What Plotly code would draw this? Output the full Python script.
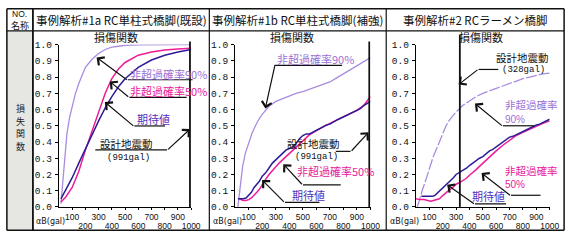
import plotly.graph_objects as go

W, H = 580, 243

# ---------------- data ----------------
x_range = [0, 1000]
odd_ticks = [100, 300, 500, 700, 900]
even_ticks = [200, 400, 600, 800, 1000]
y_ticks = [0.0, 0.1, 0.2, 0.3, 0.4, 0.5, 0.6, 0.7, 0.8, 0.9, 1.0]
y_ticktext = ["0.0", "0.1", "0.2", "0.3", "0.4", "0.5", "0.6", "0.7", "0.8", "0.9", "1.0"]

panel_titles = ["事例解析#1a RC単柱式橋脚(既設)", "事例解析#1b RC単柱式橋脚(補強)", "事例解析#2 RCラーメン橋脚"]
design_gal = [991, 991, 328]
design_text = ["(991gal)", "(991gal)", "(328gal)"]

# Panel 1 (#1a)
p1_x90 = [15, 30, 45, 60, 80, 100, 125, 150, 200, 250, 300, 350, 400, 450, 500, 600, 700, 800, 900, 1000]
p1_y90 = [0.02, 0.15, 0.32, 0.45, 0.55, 0.62, 0.70, 0.76, 0.86, 0.91, 0.945, 0.97, 0.985, 0.99, 0.995, 0.998, 1.0, 1.0, 1.0, 1.0]
p1_xe = [15, 50, 100, 150, 200, 250, 300, 350, 400, 450, 500, 600, 700, 800, 900, 1000]
p1_ye = [0.05, 0.10, 0.18, 0.27, 0.36, 0.45, 0.53, 0.61, 0.68, 0.74, 0.79, 0.86, 0.905, 0.935, 0.955, 0.97]
p1_x50 = [15, 50, 100, 150, 200, 250, 300, 350, 400, 450, 500, 600, 700, 800, 900, 1000]
p1_y50 = [0.03, 0.06, 0.12, 0.22, 0.35, 0.47, 0.59, 0.70, 0.79, 0.85, 0.89, 0.935, 0.955, 0.967, 0.973, 0.977]

# Panel 2 (#1b)
p2_x90 = [20, 40, 55, 75, 100, 125, 150, 175, 200, 250, 300, 350, 400, 450, 500, 550, 600, 650, 700, 750, 800, 850, 900, 950, 1000]
p2_y90 = [0.0, 0.15, 0.25, 0.33, 0.40, 0.455, 0.50, 0.54, 0.57, 0.62, 0.65, 0.668, 0.685, 0.70, 0.71, 0.725, 0.74, 0.755, 0.77, 0.795, 0.82, 0.845, 0.87, 0.895, 0.92]
p2_xe = [20, 40, 60, 80, 100, 120, 140, 160, 180, 200, 225, 250, 275, 300, 325, 350, 375, 400, 425, 450, 475, 500, 525, 550, 575, 600,
         625, 650, 675, 700, 725, 750, 775, 800, 825, 850, 875, 900, 925, 950, 975, 1000]
p2_ye = [0.05, 0.05, 0.05, 0.055, 0.07, 0.09, 0.12, 0.14, 0.16, 0.19, 0.21, 0.24, 0.27, 0.29, 0.31, 0.33, 0.35, 0.36, 0.37, 0.39, 0.42, 0.44, 0.45, 0.45, 0.46, 0.475,
         0.48, 0.495, 0.505, 0.51, 0.525, 0.535, 0.545, 0.555, 0.57, 0.575, 0.585, 0.60, 0.605, 0.625, 0.64, 0.65]
p2_x50 = [30, 60, 80, 100, 120, 140, 160, 180, 200, 225, 250, 275, 300, 325, 350, 375, 400, 450, 500, 550, 600, 650, 700, 750, 800, 850, 900, 950, 1000]
p2_y50 = [0.05, 0.04, 0.04, 0.045, 0.055, 0.07, 0.09, 0.11, 0.14, 0.17, 0.20, 0.225, 0.25, 0.27, 0.29, 0.31, 0.33, 0.37, 0.41, 0.445, 0.47, 0.495, 0.515, 0.535, 0.555, 0.575, 0.595, 0.625, 0.68]

# Panel 3 (#2)
p3_x90 = [10, 30, 50, 75, 100, 125, 150, 175, 200, 225, 250, 275, 300, 350, 400, 450, 500, 550, 600, 650, 700, 750, 800, 850, 900, 950, 1000]
p3_y90 = [0.0, 0.06, 0.11, 0.17, 0.24, 0.30, 0.35, 0.40, 0.45, 0.50, 0.535, 0.56, 0.585, 0.625, 0.655, 0.68, 0.70, 0.715, 0.73, 0.745, 0.76, 0.775, 0.79, 0.80, 0.81, 0.82, 0.825]
p3_xe = [40, 60, 80, 100, 120, 140, 160, 180, 200, 220, 240, 260, 280, 300, 320, 340, 360, 380, 400, 425, 450, 475, 500, 525, 550, 575,
         600, 625, 650, 675, 700, 725, 750, 775, 800, 825, 850, 875, 900, 925, 950, 975, 1000]
p3_ye = [0.065, 0.065, 0.065, 0.065, 0.065, 0.07, 0.085, 0.10, 0.12, 0.13, 0.15, 0.16, 0.18, 0.20, 0.21, 0.215, 0.23, 0.24, 0.255, 0.27, 0.29, 0.30, 0.31, 0.33, 0.345, 0.355,
         0.37, 0.38, 0.395, 0.41, 0.43, 0.435, 0.445, 0.455, 0.47, 0.48, 0.49, 0.50, 0.505, 0.51, 0.52, 0.53, 0.54]
p3_x50 = [0, 30, 60, 90, 110, 130, 150, 175, 200, 225, 250, 275, 300, 325, 350, 375, 400, 425, 450, 475, 500, 550, 600, 650, 700, 750, 800, 850, 900, 950, 1000]
p3_y50 = [0.05, 0.045, 0.045, 0.04, 0.035, 0.04, 0.045, 0.05, 0.07, 0.09, 0.105, 0.12, 0.14, 0.15, 0.16, 0.175, 0.195, 0.21, 0.23, 0.25, 0.27, 0.31, 0.345, 0.38, 0.41, 0.44, 0.46, 0.48, 0.50, 0.515, 0.53]

# ---------------- styles ----------------
C90 = "#a98ce0"
C50 = "#ee1c96"
CE = "#2c1c98"
T90 = "#9b72d4"
T50 = "#e8209a"
TE = "#5030c0"
CJK = "Noto Sans CJK JP"

# panel pixel geometry (x of gal=0 and gal=1000; y of value 0 and 1)
px_dom = [(60, 194.5), (239.3, 377), (423.3, 559.3)]
py0, py1 = 211.5, 41.5


def fx(px):
    return px / W


def fy(py):
    return 1 - py / H


fig = go.Figure()

panels = [
    (p1_x90, p1_y90, p1_xe, p1_ye, p1_x50, p1_y50, "solid"),
    (p2_x90, p2_y90, p2_xe, p2_ye, p2_x50, p2_y50, "solid"),
    (p3_x90, p3_y90, p3_xe, p3_ye, p3_x50, p3_y50, "11px,2px"),
]

for i, (x90, y90, xe, ye, x50, y50, dash90) in enumerate(panels):
    n = i + 1
    xa = "x" if n == 1 else f"x{n}"
    xo = f"x{n + 3}"
    ya = "y" if n == 1 else f"y{n}"
    fig.add_trace(go.Scatter(x=x90, y=y90, mode="lines", xaxis=xa, yaxis=ya,
                             line=dict(color=C90, width=1.3, dash=dash90), showlegend=False, hoverinfo="skip"))
    fig.add_trace(go.Scatter(x=x50, y=y50, mode="lines", xaxis=xa, yaxis=ya,
                             line=dict(color=C50, width=1.5), showlegend=False, hoverinfo="skip"))
    fig.add_trace(go.Scatter(x=xe, y=ye, mode="lines", xaxis=xo, yaxis=ya,
                             line=dict(color=CE, width=1.5), showlegend=False, hoverinfo="skip"))

    d0, d1 = px_dom[i]
    dom = [fx(d0), fx(d1)]
    ydom = [fy(py0), fy(py1)]
    common_x = dict(domain=dom, range=x_range, showgrid=False, zeroline=False, fixedrange=True,
                    ticks="outside", ticklen=2, tickcolor="black", tickwidth=1,
                    tickfont=dict(family="Liberation Sans", size=8.5, color="#111"))
    fig.layout[f"xaxis{n if n > 1 else ''}"] = dict(
        common_x, anchor=ya, tickvals=odd_ticks, ticktext=[str(v) for v in odd_ticks],
        showline=True, linecolor="black", linewidth=1, ticklabelstandoff=0)
    fig.layout[f"xaxis{n + 3}"] = dict(
        common_x, anchor=ya, overlaying=xa, tickvals=even_ticks, ticktext=[str(v) for v in even_ticks],
        showline=False, ticklabelstandoff=9)
    fig.layout[f"yaxis{n if n > 1 else ''}"] = dict(
        domain=ydom, range=[0, 1], anchor=xa, tickvals=y_ticks, ticktext=y_ticktext,
        showgrid=False, zeroline=False, showline=True, linecolor="black", linewidth=1.3,
        ticks="outside", ticklen=3, tickcolor="black", fixedrange=True, ticklabelstandoff=1,
        tickfont=dict(family="Liberation Mono", size=9.5, color="#111"))

shapes = []
annots = []

# left gray column & table grid
shapes.append(dict(type="rect", xref="paper", yref="paper", x0=fx(7), x1=fx(33.5), y0=fy(236), y1=fy(27),
                   fillcolor="#e6e6e2", line=dict(width=0), layer="below"))
for (x0, y0, x1, y1, w) in [
    (7, 4, 574, 4, 1.5), (7, 236, 574, 236, 1.5), (7, 4, 7, 236, 1.5), (574, 4, 574, 236, 1.5),
    (7, 27, 574, 27, 1.2), (33.5, 4, 33.5, 236, 1.8), (213, 4, 213, 236, 1.2), (393, 4, 393, 236, 1.2),
]:
    shapes.append(dict(type="line", xref="paper", yref="paper", x0=fx(x0), x1=fx(x1), y0=fy(y0), y1=fy(y1),
                       line=dict(color="#111", width=w)))

# design earthquake vertical lines
for i, g in enumerate(design_gal):
    n = i + 1
    xa = "x" if n == 1 else f"x{n}"
    ya = "y" if n == 1 else f"y{n}"
    top = 1.06 if i == 2 else 1.02
    shapes.append(dict(type="line", xref=xa, yref=f"{ya} domain", x0=g, x1=g, y0=0, y1=top,
                       line=dict(color="#111", width=1.8)))


def text(px, py, s, color="#111", size=11, family=CJK, anchor="left"):
    annots.append(dict(x=fx(px), y=fy(py), xref="paper", yref="paper", text=s, showarrow=False,
                       xanchor=anchor, yanchor="middle",
                       font=dict(family=family, size=size, color=color)))


def arrow(hx, hy, tx, ty):
    annots.append(dict(x=fx(hx), y=fy(hy), xref="paper", yref="paper", text="", showarrow=True,
                       ax=tx - hx, ay=ty - hy, axref="pixel", ayref="pixel",
                       arrowhead=4, arrowsize=1.6, arrowwidth=1.2, arrowcolor="#111"))


def hline(x0, x1, y):
    shapes.append(dict(type="line", xref="paper", yref="paper", x0=fx(x0), x1=fx(x1), y0=fy(y), y1=fy(y),
                       line=dict(color="#111", width=1.2)))


MONO = "Liberation Mono"
SANS = "Liberation Sans"

# header
text(10, 9.3, "NO.", size=8.5, family=SANS)
text(20.5, 21, "名称", size=9, anchor="center")
centers = [123.5, 303, 483.5]
for c, t in zip(centers, panel_titles):
    text(c, 15.5, t, size=11.5, anchor="center")
# vertical row label, one character per line
for k, ch in enumerate("損失関数"):
    text(20.5, 108.5 + 13.2 * k, ch, size=9, anchor="center", color="#222")

# subplot titles
for c in [118, 297, 489]:
    text(c, 33, "損傷関数", size=11, anchor="center")

# axis name
for xl in [35, 214.5, 395]:
    text(xl, 227, "αB(gal)", size=8, family="DejaVu Sans", color="#111")

# ---- panel 1 labels ----
text(130, 72, "非超過確率90%", color=T90, size=11)
hline(130, 196, 78.3); arrow(98.3, 55, 130, 78.3)
text(130, 90, "非超過確率50%", color=T50, size=11)
hline(131.7, 190, 96.7); arrow(111.7, 80, 131.7, 96.7)
text(137, 119.5, "期待値", color=TE, size=11)
hline(136.7, 168, 126.7); arrow(106.7, 101.7, 136.7, 126.7)
text(100, 145.5, "設計地震動", size=10.5)
text(107, 159.8, design_text[0], size=9, family=MONO)
hline(97, 170, 151.7); arrow(193.3, 130, 170, 151.7)

# ---- panel 2 labels ----
text(290, 145, "設計地震動", size=10.5)
text(298, 159.5, design_text[1], size=9, family=MONO)
hline(341.7, 356.7, 153.3); arrow(375, 133.3, 356.7, 153.3)
text(280, 57, "非超過確率90%", color=T90, size=11)
hline(280, 348, 63.3); arrow(270, 108.3, 280, 63.3)
text(300, 174, "非超過確率50%", color=T50, size=11)
hline(308.3, 346.7, 188.3); arrow(288.3, 166.7, 308.3, 188.3)
text(295, 198.8, "期待値", color=TE, size=11)
hline(290, 325, 206.7); arrow(266.7, 183.3, 290, 206.7)

# ---- panel 3 labels ----
text(503, 54.5, "設計地震動", size=10.5)
text(509, 68.5, design_text[2], size=9, family=MONO)
hline(487, 507, 67.5); arrow(466.7, 83.3, 487, 67.5)
text(512, 104.5, "非超過確率", color=T90, size=10.5)
text(512, 119.5, "90%", color=T90, size=10, family=SANS)
hline(511.7, 543.3, 126.5); arrow(483.3, 103.3, 511.7, 126.5)
text(512, 173.5, "非超過確率", color=T50, size=10.5)
text(512, 188.5, "50%", color=T50, size=10, family=SANS)
hline(520, 550, 199.3); arrow(490, 176, 520, 199.3)
text(478, 200, "期待値", color=TE, size=11)
hline(483.3, 515, 208.3); arrow(455, 188.3, 483.3, 208.3)

fig.update_layout(width=W, height=H, margin=dict(l=0, r=0, t=0, b=0),
                  paper_bgcolor="white", plot_bgcolor="rgba(0,0,0,0)",
                  shapes=shapes, annotations=annots, showlegend=False)

fig.write_html("out.html", config={"displayModeBar": False})
